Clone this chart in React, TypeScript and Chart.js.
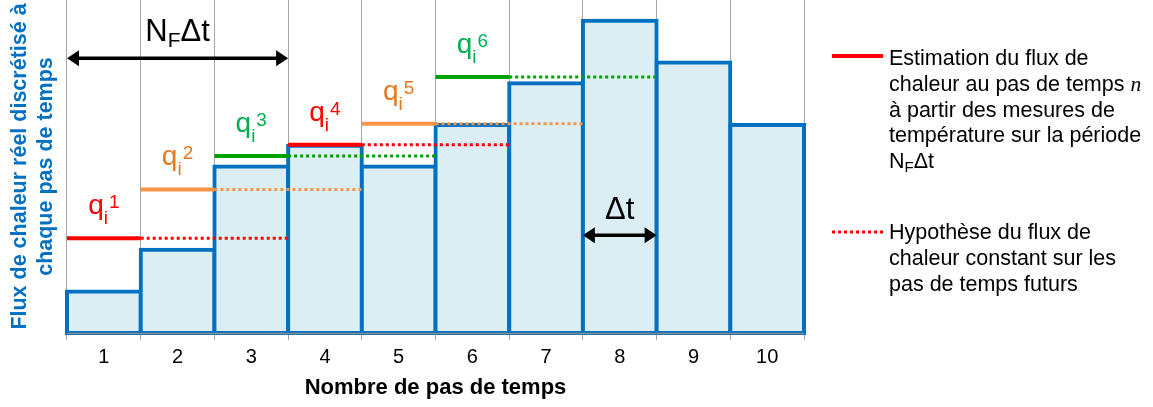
import React, { useEffect, useRef } from 'react';
import { Chart, registerables } from 'chart.js';

Chart.register(...registerables);

// ---- data ----
const categories = ['1', '2', '3', '4', '5', '6', '7', '8', '9', '10'];
const barValues = [2, 4, 8, 9, 8, 10, 12, 15, 13, 10];
const estimateSteps = [1, 2, 3, 4, 5, 6];
const estimateValues = [4.55, 6.9, 8.5, 9.05, 10.05, 12.3];
const futureSteps = 2;
const yMin = 0;
const yMax = 16;
const yTitle = ['Flux de chaleur réel discrétisé à', 'chaque pas de temps'];
const xTitle = 'Nombre de pas de temps';
const legendEstimation = ['Estimation du flux de', 'chaleur au pas de temps ', 'à partir des mesures de', 'température sur la période'];
const legendHypothesis = ['Hypothèse du flux de', 'chaleur constant sur les', 'pas de temps futurs'];
const windowArrow = { from: 0.5, to: 3.5, y: 13.2 };
const stepArrow = { from: 7.5, to: 8.5, y: 4.7 };

// ---- styles ----
const FONT = "'Liberation Sans', Arial, sans-serif";
const RED = '#FF0000';
const ORANGE_LINE = '#F79646';
const ORANGE_TEXT = '#E8781E';
const GREEN_LINE = '#00A000';
const GREEN_TEXT = '#00B050';
const lineColors = [RED, ORANGE_LINE, GREEN_LINE, RED, ORANGE_LINE, GREEN_LINE];
const labelColors = [RED, ORANGE_TEXT, GREEN_TEXT, RED, ORANGE_TEXT, GREEN_TEXT];
const BAR_BORDER = '#0070C0';
const BAR_FILL = '#DAEEF3';
const LEGEND_SIZE = 21.5;

function drawArrow(ctx: CanvasRenderingContext2D, x1: number, x2: number, y: number) {
  const head = 12;
  const half = 8;
  ctx.save();
  ctx.strokeStyle = '#000';
  ctx.fillStyle = '#000';
  ctx.lineWidth = 3.5;
  ctx.beginPath();
  ctx.moveTo(x1 + head - 2, y);
  ctx.lineTo(x2 - head + 2, y);
  ctx.stroke();
  ctx.beginPath();
  ctx.moveTo(x1, y);
  ctx.lineTo(x1 + head, y - half);
  ctx.lineTo(x1 + head, y + half);
  ctx.closePath();
  ctx.fill();
  ctx.beginPath();
  ctx.moveTo(x2, y);
  ctx.lineTo(x2 - head, y - half);
  ctx.lineTo(x2 - head, y + half);
  ctx.closePath();
  ctx.fill();
  ctx.restore();
}

function drawNfDt(ctx: CanvasRenderingContext2D, cx: number, baseline: number, big: number, small: number, center: boolean) {
  ctx.font = `${big}px ${FONT}`;
  const wN = ctx.measureText('N').width;
  const wD = ctx.measureText('Δt').width;
  ctx.font = `${small}px ${FONT}`;
  const wF = ctx.measureText('F').width;
  const total = wN + wF + wD;
  let x = center ? cx - total / 2 : cx;
  ctx.textAlign = 'left';
  ctx.textBaseline = 'alphabetic';
  ctx.font = `${big}px ${FONT}`;
  ctx.fillText('N', x, baseline);
  x += wN;
  ctx.font = `${small}px ${FONT}`;
  ctx.fillText('F', x, baseline + Math.round(big * 0.2));
  x += wF;
  ctx.font = `${big}px ${FONT}`;
  ctx.fillText('Δt', x, baseline);
}

const annotationPlugin = {
  id: 'annotations',
  afterDatasetsDraw(chart: any) {
    const ctx: CanvasRenderingContext2D = chart.ctx;
    const xs = chart.scales.x2;
    const ys = chart.scales.y;
    const area = chart.chartArea;
    ctx.save();

    // axis line over bar borders
    ctx.strokeStyle = '#8C8C8C';
    ctx.lineWidth = 1.5;
    ctx.beginPath();
    ctx.moveTo(area.left, area.bottom + 0.5);
    ctx.lineTo(area.right, area.bottom + 0.5);
    ctx.stroke();

    // q_i^n labels
    estimateValues.forEach((v, i) => {
      const step = estimateSteps[i];
      const cx = xs.getPixelForValue(step);
      const base = ys.getPixelForValue(v) - 24;
      ctx.fillStyle = labelColors[i];
      ctx.textAlign = 'left';
      ctx.textBaseline = 'alphabetic';
      ctx.font = `28px ${FONT}`;
      const wq = ctx.measureText('q').width;
      ctx.font = `19px ${FONT}`;
      const wi = ctx.measureText('i').width;
      const ws = ctx.measureText(String(step)).width;
      const total = wq + wi + 1 + ws;
      let x = cx - total / 2;
      ctx.font = `28px ${FONT}`;
      ctx.fillText('q', x, base);
      x += wq;
      ctx.font = `19px ${FONT}`;
      ctx.fillText('i', x, base + 10);
      x += wi + 1;
      ctx.fillText(String(step), x, base - 6);
    });

    // arrows
    const a1 = xs.getPixelForValue(windowArrow.from);
    const a2 = xs.getPixelForValue(windowArrow.to);
    const ay = ys.getPixelForValue(windowArrow.y);
    drawArrow(ctx, a1, a2, ay);
    ctx.fillStyle = '#000';
    drawNfDt(ctx, (a1 + a2) / 2, ay - 17, 31, 21, true);

    const b1 = xs.getPixelForValue(stepArrow.from);
    const b2 = xs.getPixelForValue(stepArrow.to);
    const by = ys.getPixelForValue(stepArrow.y);
    drawArrow(ctx, b1, b2, by);
    ctx.fillStyle = '#000';
    ctx.font = `31px ${FONT}`;
    ctx.textAlign = 'center';
    ctx.textBaseline = 'alphabetic';
    ctx.fillText('Δt', (b1 + b2) / 2, by - 16);

    // legend
    const lx1 = area.right + 28;
    const lx2 = area.right + 79;
    const tx = area.right + 85;
    const lh = 25.8;
    const base1 = 65;
    ctx.strokeStyle = RED;
    ctx.lineWidth = 4;
    ctx.beginPath();
    ctx.moveTo(lx1, base1 - 9);
    ctx.lineTo(lx2, base1 - 9);
    ctx.stroke();
    ctx.fillStyle = '#000';
    ctx.textAlign = 'left';
    ctx.textBaseline = 'alphabetic';
    legendEstimation.forEach((t, k) => {
      ctx.font = `${LEGEND_SIZE}px ${FONT}`;
      ctx.fillText(t, tx, base1 + k * lh);
      if (k === 1) {
        const w = ctx.measureText(t).width;
        ctx.font = `italic ${LEGEND_SIZE}px 'Liberation Serif', 'Times New Roman', serif`;
        ctx.fillText('n', tx + w, base1 + k * lh);
      }
    });
    drawNfDt(ctx, tx, base1 + 4 * lh, LEGEND_SIZE, 15, false);

    const base2 = 239;
    ctx.strokeStyle = RED;
    ctx.lineWidth = 3;
    ctx.setLineDash([3, 3]);
    ctx.beginPath();
    ctx.moveTo(lx1, base2 - 7);
    ctx.lineTo(lx2, base2 - 7);
    ctx.stroke();
    ctx.setLineDash([]);
    ctx.font = `${LEGEND_SIZE}px ${FONT}`;
    legendHypothesis.forEach((t, k) => {
      ctx.fillText(t, tx, base2 + k * 26);
    });

    ctx.restore();
  },
};

export default function App() {
  const ref = useRef<HTMLCanvasElement | null>(null);
  useEffect(() => {
    if (!ref.current) return;
    Chart.defaults.font.family = FONT;
    const lineDatasets: any[] = [];
    estimateValues.forEach((v, i) => {
      const s = estimateSteps[i];
      lineDatasets.push({
        type: 'line',
        xAxisID: 'x2',
        yAxisID: 'y',
        data: [{ x: s - 0.5, y: v }, { x: s + 0.5, y: v }],
        borderColor: lineColors[i],
        borderWidth: 4,
        pointRadius: 0,
        tension: 0,
        clip: false,
        order: 0,
        borderCapStyle: 'butt',
      });
      lineDatasets.push({
        type: 'line',
        xAxisID: 'x2',
        yAxisID: 'y',
        data: [{ x: s + 0.5, y: v }, { x: s + 0.5 + futureSteps, y: v }],
        borderColor: lineColors[i],
        borderWidth: 3,
        borderDash: [3, 3],
        pointRadius: 0,
        tension: 0,
        clip: false,
        order: 0,
        borderCapStyle: 'butt',
      });
    });
    const chart = new Chart(ref.current, {
      type: 'bar',
      data: {
        labels: categories,
        datasets: [
          {
            type: 'bar',
            data: barValues,
            xAxisID: 'x',
            yAxisID: 'y',
            backgroundColor: BAR_FILL,
            borderColor: BAR_BORDER,
            borderWidth: 4,
            borderSkipped: false,
            inflateAmount: 2,
            categoryPercentage: 1,
            barPercentage: 1,
            grouped: false,
            clip: false,
            order: 1,
          } as any,
          ...lineDatasets,
        ],
      },
      options: {
        responsive: false,
        animation: false,
        devicePixelRatio: 1,
        layout: { padding: { left: 0, right: 349, top: 0, bottom: 0 } },
        plugins: { legend: { display: false }, tooltip: { enabled: false } },
        events: [],
        scales: {
          x: {
            type: 'category',
            offset: true,
            grid: { offset: true, color: '#A6A6A6', lineWidth: 1, tickLength: 7, drawOnChartArea: true },
            border: { display: true, color: '#8C8C8C', width: 1.5 },
            ticks: { color: '#000', font: { size: 20, family: FONT }, padding: 5, maxRotation: 0, autoSkip: false },
            title: {
              display: true,
              text: xTitle,
              color: '#000',
              font: { size: 22, weight: 'bold', family: FONT },
              padding: { top: 0, bottom: 6 },
            },
            afterFit: (s: any) => {
              s.height = 74;
            },
          },
          x2: {
            type: 'linear',
            axis: 'x',
            position: 'bottom',
            display: false,
            offset: false,
            min: 0.5,
            max: 10.5,
            grid: { offset: false },
          },
          y: {
            type: 'linear',
            min: yMin,
            max: yMax,
            grid: { display: false },
            border: { display: false },
            ticks: { display: false },
            title: {
              display: true,
              text: yTitle,
              color: '#0070C0',
              font: { size: 21.5, weight: 'bold', family: FONT, lineHeight: 1.2 },
              padding: { top: 7, bottom: 0 },
            },
            afterFit: (s: any) => {
              s.width = 67;
            },
          },
        } as any,
      },
      plugins: [annotationPlugin],
    });
    return () => chart.destroy();
  }, []);
  return (
    <div style={{ position: 'absolute', left: 0, top: 0, width: 1153, height: 407, background: '#fff' }}>
      <canvas ref={ref} width={1153} height={407} style={{ display: 'block' }} />
    </div>
  );
}
